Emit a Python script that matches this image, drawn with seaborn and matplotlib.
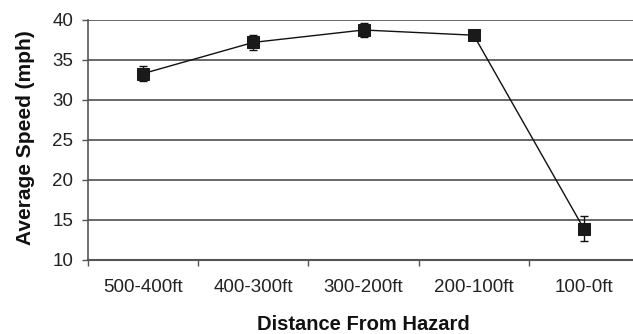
import numpy as np
import pandas as pd
import matplotlib
matplotlib.use("Agg")
import matplotlib.pyplot as plt
import seaborn as sns

categories = ["500-400ft", "400-300ft", "300-200ft", "200-100ft", "100-0ft"]
mean_speed = [33.3, 37.2, 38.75, 38.1, 13.9]
err_speed = [0.95, 0.9, 0.85, 0.65, 1.55]
y_ticks = [10, 15, 20, 25, 30, 35, 40]

sns.set_theme(style="white")
plt.rcParams["font.family"] = ["Liberation Sans", "DejaVu Sans"]

df = pd.DataFrame({"pos": np.arange(len(categories)), "speed": mean_speed,
                   "err": err_speed, "cat": categories})

fig = plt.figure(figsize=(6.33, 3.34), dpi=100)
ax = fig.add_axes([88/633, 1-260/334, 551/633, 240/334])

ax.errorbar(df["pos"], df["speed"], yerr=df["err"], fmt="none",
            ecolor="#111111", elinewidth=1.0, capsize=3, capthick=1.0, zorder=3)
sns.lineplot(data=df, x="pos", y="speed", ax=ax, color="#111111",
             linewidth=1.0, marker="s", markersize=9,
             markerfacecolor="#1a1a1a", markeredgecolor="#1a1a1a", zorder=4)

ax.set_xlim(-0.5, len(categories) - 0.5)
ax.set_ylim(10, 40)
ax.set_yticks(y_ticks)
ax.set_yticklabels([str(t) for t in y_ticks], fontsize=13.5, color="#222222")
ax.set_xticks(np.arange(len(categories)))
ax.set_xticklabels(categories, fontsize=13.5, color="#222222")
ax.set_xticks(np.arange(len(categories) + 1) - 0.5, minor=True)
ax.tick_params(axis="x", which="major", length=0, pad=13.5)
ax.tick_params(axis="x", which="minor", length=4, width=1, color="#555555", direction="out", bottom=True)
ax.tick_params(axis="y", length=4, width=1, color="#555555", direction="out", left=True, pad=6.5)

for t in y_ticks[1:]:
    ax.axhline(t, color="#5a5a5a", linewidth=1.3, zorder=1)

for s in ["top", "right"]:
    ax.spines[s].set_visible(False)
ax.spines["left"].set_color("#555555")
ax.spines["left"].set_linewidth(1.2)
ax.spines["bottom"].set_color("#555555")
ax.spines["bottom"].set_linewidth(1.5)

ax.set_ylabel("Average Speed (mph)", fontsize=15, fontweight="bold", color="#111111")
ax.set_xlabel("Distance From Hazard", fontsize=14.5, fontweight="bold", color="#111111")
ax.yaxis.set_label_coords(-(88-25)/551, 0.51)
ax.xaxis.set_label_coords((363-88)/551, -(325-260)/240)
ax.xaxis.label.set_va("center")
ax.yaxis.label.set_va("center")

fig.savefig("out.png", dpi=100)
